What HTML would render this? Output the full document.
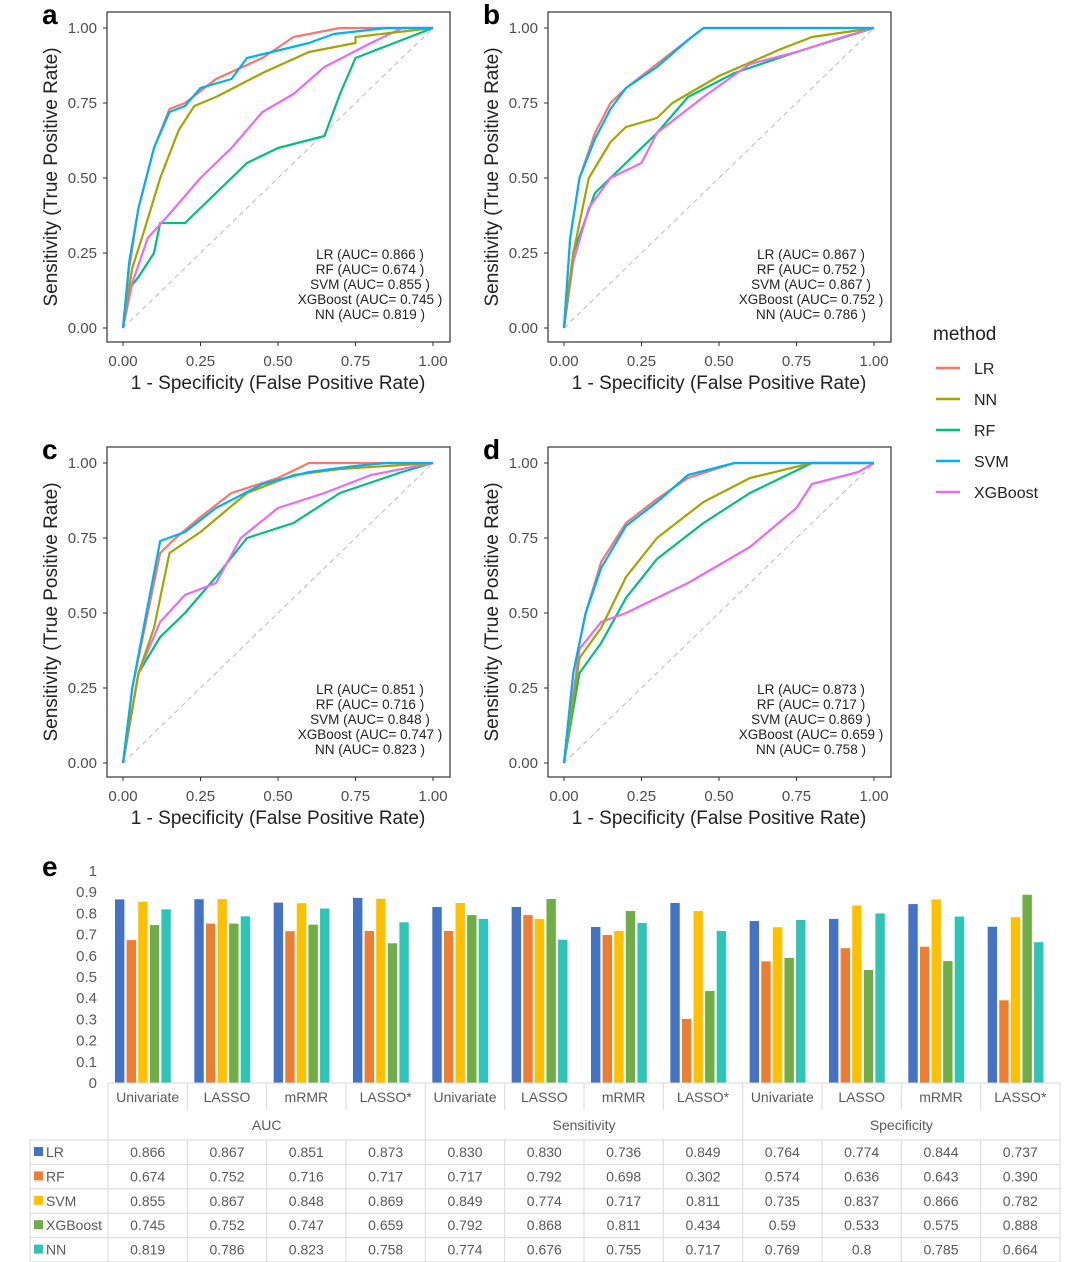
<!DOCTYPE html>
<html><head><meta charset="utf-8">
<style>
body{margin:0;background:#fff;}
svg{display:block;font-family:"Liberation Sans",Arial,sans-serif;}
</style></head>
<body>
<svg id="fig" width="1080" height="1262" viewBox="0 0 1080 1262" xmlns="http://www.w3.org/2000/svg">
<g id="rocs"></g>
<g id="legend"></g>
<g id="bars"></g>
<g id="table"></g>
</svg>
<script>
const methods = ["LR","NN","RF","SVM","XGBoost"];
const colors = {LR:"#F8766D",NN:"#A3A500",RF:"#00BF7D",SVM:"#00B0F6",XGBoost:"#E76BF3"};
const rocTicks = ["0.00","0.25","0.50","0.75","1.00"];
const panelLabels = ["a","b","c","d"];
const aucText = [
 ["LR (AUC= 0.866 )","RF (AUC= 0.674 )","SVM (AUC= 0.855 )","XGBoost (AUC= 0.745 )","NN (AUC= 0.819 )"],
 ["LR (AUC= 0.867 )","RF (AUC= 0.752 )","SVM (AUC= 0.867 )","XGBoost (AUC= 0.752 )","NN (AUC= 0.786 )"],
 ["LR (AUC= 0.851 )","RF (AUC= 0.716 )","SVM (AUC= 0.848 )","XGBoost (AUC= 0.747 )","NN (AUC= 0.823 )"],
 ["LR (AUC= 0.873 )","RF (AUC= 0.717 )","SVM (AUC= 0.869 )","XGBoost (AUC= 0.659 )","NN (AUC= 0.758 )"]
];
const rocA = {
 RF:[[0,0],[0.02,0.13],[0.05,0.17],[0.1,0.25],[0.12,0.35],[0.2,0.35],[0.3,0.45],[0.4,0.55],[0.5,0.6],[0.65,0.64],[0.7,0.78],[0.75,0.9],[1,1]],
 XGBoost:[[0,0],[0.03,0.15],[0.08,0.3],[0.15,0.38],[0.25,0.5],[0.35,0.6],[0.45,0.72],[0.55,0.78],[0.65,0.87],[0.8,0.95],[0.9,1],[1,1]],
 NN:[[0,0],[0.03,0.2],[0.07,0.33],[0.12,0.5],[0.18,0.66],[0.23,0.74],[0.3,0.77],[0.45,0.85],[0.6,0.92],[0.75,0.95],[0.75,0.97],[1,1]],
 LR:[[0,0],[0.02,0.2],[0.05,0.4],[0.1,0.6],[0.15,0.73],[0.2,0.75],[0.3,0.83],[0.45,0.9],[0.55,0.97],[0.7,1],[1,1]],
 SVM:[[0,0],[0.02,0.22],[0.05,0.4],[0.1,0.6],[0.15,0.72],[0.2,0.74],[0.25,0.8],[0.35,0.83],[0.4,0.9],[0.6,0.95],[0.68,0.98],[0.85,1],[1,1]]
};
const rocB = {
 RF:[[0,0],[0.03,0.25],[0.1,0.45],[0.2,0.55],[0.3,0.65],[0.4,0.77],[0.55,0.85],[0.75,0.92],[1,1]],
 XGBoost:[[0,0],[0.03,0.22],[0.08,0.4],[0.15,0.5],[0.25,0.55],[0.3,0.65],[0.45,0.77],[0.6,0.88],[0.75,0.92],[0.9,0.97],[1,1]],
 NN:[[0,0],[0.03,0.25],[0.08,0.5],[0.15,0.62],[0.2,0.67],[0.3,0.7],[0.35,0.75],[0.5,0.84],[0.7,0.93],[0.8,0.97],[1,1]],
 LR:[[0,0],[0.02,0.3],[0.05,0.5],[0.1,0.65],[0.15,0.75],[0.2,0.8],[0.3,0.88],[0.4,0.96],[0.45,1],[1,1]],
 SVM:[[0,0],[0.02,0.3],[0.05,0.5],[0.1,0.63],[0.15,0.73],[0.2,0.8],[0.3,0.87],[0.4,0.96],[0.45,1],[1,1]]
};
const rocC = {
 RF:[[0,0],[0.05,0.3],[0.12,0.42],[0.2,0.5],[0.3,0.62],[0.4,0.75],[0.55,0.8],[0.7,0.9],[0.9,0.97],[1,1]],
 XGBoost:[[0,0],[0.05,0.3],[0.12,0.47],[0.2,0.56],[0.3,0.6],[0.38,0.75],[0.5,0.85],[0.65,0.9],[0.8,0.96],[1,1]],
 NN:[[0,0],[0.05,0.3],[0.1,0.45],[0.15,0.7],[0.25,0.77],[0.4,0.9],[0.55,0.96],[0.7,0.98],[1,1]],
 LR:[[0,0],[0.03,0.25],[0.07,0.45],[0.12,0.7],[0.17,0.75],[0.25,0.82],[0.35,0.9],[0.5,0.95],[0.6,1],[1,1]],
 SVM:[[0,0],[0.03,0.25],[0.07,0.47],[0.12,0.74],[0.2,0.77],[0.3,0.85],[0.45,0.93],[0.6,0.97],[0.75,0.99],[0.85,1],[1,1]]
};
const rocD = {
 RF:[[0,0],[0.05,0.3],[0.12,0.4],[0.2,0.55],[0.3,0.68],[0.45,0.8],[0.6,0.9],[0.8,1],[1,1]],
 XGBoost:[[0,0],[0.05,0.38],[0.12,0.47],[0.2,0.5],[0.4,0.6],[0.6,0.72],[0.75,0.85],[0.8,0.93],[0.95,0.97],[1,1]],
 NN:[[0,0],[0.05,0.35],[0.12,0.45],[0.2,0.62],[0.3,0.75],[0.45,0.87],[0.6,0.95],[0.8,1],[1,1]],
 LR:[[0,0],[0.03,0.3],[0.07,0.5],[0.12,0.67],[0.2,0.8],[0.3,0.88],[0.4,0.95],[0.55,1],[1,1]],
 SVM:[[0,0],[0.03,0.3],[0.07,0.5],[0.12,0.65],[0.2,0.79],[0.3,0.87],[0.4,0.96],[0.55,1],[1,1]]
};
const rocData = [rocA, rocB, rocC, rocD];

const barCategories = ["Univariate","LASSO","mRMR","LASSO*","Univariate","LASSO","mRMR","LASSO*","Univariate","LASSO","mRMR","LASSO*"];
const metricGroups = ["AUC","Sensitivity","Specificity"];
const barSeries = ["LR","RF","SVM","XGBoost","NN"];
const barColors = ["#4472C4","#ED7D31","#FFC000","#70AD47","#2EC4B6"];
const valLR  = ["0.866","0.867","0.851","0.873","0.830","0.830","0.736","0.849","0.764","0.774","0.844","0.737"];
const valRF  = ["0.674","0.752","0.716","0.717","0.717","0.792","0.698","0.302","0.574","0.636","0.643","0.390"];
const valSVM = ["0.855","0.867","0.848","0.869","0.849","0.774","0.717","0.811","0.735","0.837","0.866","0.782"];
const valXGB = ["0.745","0.752","0.747","0.659","0.792","0.868","0.811","0.434","0.59","0.533","0.575","0.888"];
const valNN  = ["0.819","0.786","0.823","0.758","0.774","0.676","0.755","0.717","0.769","0.8","0.785","0.664"];
const barValues = [valLR,valRF,valSVM,valXGB,valNN];
const barTicks = ["0","0.1","0.2","0.3","0.4","0.5","0.6","0.7","0.8","0.9","1"];

const NS="http://www.w3.org/2000/svg";
function mk(parent, tag, attrs, text){
  const e=document.createElementNS(NS,tag);
  for(const k in attrs) e.setAttribute(k,attrs[k]);
  if(text!==undefined) e.textContent=text;
  parent.appendChild(e); return e;
}

const rocs=document.getElementById('rocs');
const offs=[[0,0],[441,0],[0,435],[441,435]];
offs.forEach((o,pi)=>{
  const g=mk(rocs,'g',{});
  
  
  const x0=123+o[0], x1=433+o[0], yTop=28+o[1], yBot=328+o[1];
  const sx=v=>x0+v*(x1-x0), sy=v=>yBot-v*(yBot-yTop);
  const box=mk(g,'rect',{x:107+o[0],y:12+o[1],width:343,height:330,fill:'#fff',stroke:'#333','stroke-width':1.2});
  
  
  const diag=mk(g,'line',{x1:sx(0),y1:sy(0),x2:sx(1),y2:sy(1),stroke:'#bbb','stroke-width':1,'stroke-dasharray':'5,4'});
  
  
  rocTicks.forEach((t,i)=>{
    const v=i/4;
    mk(g,'line',{x1:103+o[0],x2:107+o[0],y1:sy(v),y2:sy(v),stroke:'#333'});
    const yl=mk(g,'text',{x:97+o[0],y:sy(v)+5,'text-anchor':'end','font-size':15,fill:'#4d4d4d'},t);
    
    
    mk(g,'line',{x1:sx(v),x2:sx(v),y1:342+o[1],y2:346+o[1],stroke:'#333'});
    const xl=mk(g,'text',{x:sx(v),y:366+o[1],'text-anchor':'middle','font-size':15,fill:'#4d4d4d'},t);
    
    
  });
  const xt=mk(g,'text',{x:278+o[0],y:389+o[1],'text-anchor':'middle','font-size':19,fill:'#222'},'1 - Specificity (False Positive Rate)');
  
  
  const yt=mk(g,'text',{x:0,y:0,transform:`translate(${57+o[0]},${177+o[1]}) rotate(-90)`,'text-anchor':'middle','font-size':19,fill:'#222'},'Sensitivity (True Positive Rate)');
  
  
  const pl=mk(g,'text',{x:42+o[0],y:24+o[1],'font-size':28,'font-weight':'bold',fill:'#000'},panelLabels[pi]);
  
  
  const d=rocData[pi];
  ["RF","XGBoost","NN","LR","SVM"].forEach(m=>{
    const pts=d[m];
    const s=pts.map((p,i)=>(i?'L':'M')+sx(p[0])+','+sy(p[1])).join('');
    const path=mk(g,'path',{d:s,fill:'none',stroke:colors[m],'stroke-width':2.2,'stroke-linejoin':'round'});
    
    
  });
  aucText[pi].forEach((t,i)=>{
    const a=mk(g,'text',{x:370+o[0],y:259+i*15+o[1],'text-anchor':'middle','font-size':13.5,fill:'#222'},t);
    
    
  });
});

const lg=document.getElementById('legend');
const lt=mk(lg,'text',{x:933,y:340,'font-size':19,fill:'#222'},'method');


methods.forEach((m,i)=>{
  const y=368+i*31;
  const ln=mk(lg,'line',{x1:936,x2:960,y1:y,y2:y,stroke:colors[m],'stroke-width':2.5});
  
  
  const tx=mk(lg,'text',{x:974,y:y+6,'font-size':16,fill:'#222'},m);
  
  
});

const bg=document.getElementById('bars');
const bx0=108, colW=(1060-108)/12, by0=1083, by1=871;
const byScale=v=>by0-v*(by0-by1);
const el=mk(bg,'text',{x:42,y:876,'font-size':28,'font-weight':'bold',fill:'#000'},'e');


barTicks.forEach((t,i)=>{
  const tk=mk(bg,'text',{x:97,y:byScale(parseFloat(t))+5,'text-anchor':'end','font-size':15,fill:'#595959'},t);
  
  
});
barCategories.forEach((c,ci)=>{
  barSeries.forEach((s,si)=>{
    const v=parseFloat(barValues[si][ci]);
    const r=mk(bg,'rect',{x:bx0+ci*colW+7+si*11.6,y:byScale(v),width:9.4,height:by0-byScale(v),fill:barColors[si]});
    
    
  });
});

const tg=document.getElementById('table');
const gridC='#d9d9d9';
const tTop=1083, hdrH=27, grpH=30, rowH=24.4;
const tRows0=tTop+hdrH+grpH;
barCategories.forEach((c,ci)=>{
  const x=bx0+ci*colW;
  mk(tg,'line',{x1:x,x2:x,y1:tTop,y2:tTop+hdrH,stroke:gridC});
  const t=mk(tg,'text',{x:x+colW/2,y:tTop+19,'text-anchor':'middle','font-size':14,fill:'#595959'},c);
  
  
});
mk(tg,'line',{x1:bx0,x2:1060,y1:tTop,y2:tTop,stroke:gridC});
metricGroups.forEach((m,gi)=>{
  const x=bx0+gi*4*colW;
  mk(tg,'line',{x1:x,x2:x,y1:tTop+hdrH,y2:tRows0,stroke:gridC});
  const t=mk(tg,'text',{x:x+2*colW,y:tTop+hdrH+20,'text-anchor':'middle','font-size':14,fill:'#595959'},m);
  
  
});
mk(tg,'line',{x1:1060,x2:1060,y1:tTop,y2:1262,stroke:gridC});
barSeries.forEach((s,si)=>{
  const y=tRows0+si*rowH;
  mk(tg,'line',{x1:30,x2:1060,y1:y,y2:y,stroke:gridC});
  const sw=mk(tg,'rect',{x:34,y:y+7,width:9,height:9,fill:barColors[si]});
  
  
  const nm=mk(tg,'text',{x:46,y:y+17,'font-size':14,fill:'#595959'},s);
  
  
  barValues[si].forEach((v,ci)=>{
    const t=mk(tg,'text',{x:bx0+ci*colW+colW/2,y:y+17,'text-anchor':'middle','font-size':14,fill:'#595959'},v);
    
    
  });
});
mk(tg,'line',{x1:30,x2:1060,y1:tRows0+5*rowH,y2:tRows0+5*rowH,stroke:gridC});
mk(tg,'line',{x1:30,x2:30,y1:tRows0,y2:tRows0+5*rowH,stroke:gridC});
for(let ci=0;ci<12;ci++){
  const x=bx0+ci*colW;
  mk(tg,'line',{x1:x,x2:x,y1:tRows0,y2:tRows0+5*rowH,stroke:gridC});
}
</script>
</body></html>
